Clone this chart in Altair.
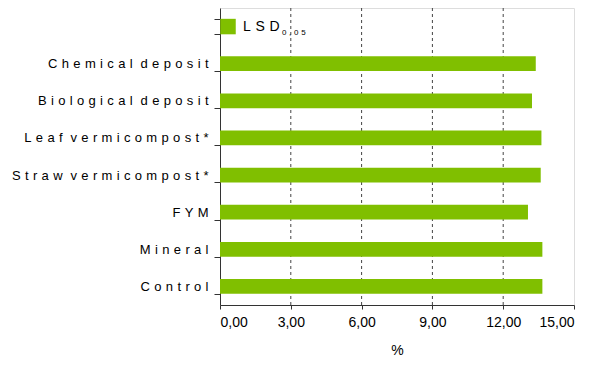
import altair as alt
import pandas as pd

categories = ["Chemical deposit", "Biological deposit", "Leaf vermicompost*",
              "Straw vermicompost*", "FYM", "Mineral", "Control"]
values = [13.38, 13.22, 13.62, 13.59, 13.05, 13.66, 13.66]
legend_slot = " "          # top band that holds the legend
legend_main = ["LSD"]
legend_sub = ["0,05"]
x_ticks = [0, 3, 6, 9, 12, 15]
grid_values = [3, 6, 9, 12]

GREEN = "#80BF00"
SP = "\u2004"
FONT = "Liberation Sans"
domain = [legend_slot] + categories

bars_df = pd.DataFrame({"cat": categories, "val": values})
grid_df = pd.DataFrame({"g": grid_values})
leg_df = pd.DataFrame({"cat": [legend_slot], "main": legend_main, "sub": legend_sub})


def spaced(field):
    return ("replace(join(split(" + field + ", ''), '" + SP + "'), '"
            + SP + " " + SP + "', ' " + SP + "')")


yscale = alt.Scale(domain=domain, paddingInner=0.6, paddingOuter=0.3)
yaxis = alt.Axis(title=None, tickBand="extent", tickSize=6, tickColor="#333",
                 domainColor="#333", labelFontSize=13, labelColor="#000",
                 labelPadding=6, labelExpr=spaced("datum.label"), labelLimit=400,
                 grid=False, labelFont=FONT)
xscale = alt.Scale(domain=[0, 15], nice=False, zero=True)
xaxis = alt.Axis(values=x_ticks, grid=False, tickSize=4, tickColor="#333",
                 domainColor="#333", labelFontSize=14, labelColor="#000",
                 labelPadding=6, labelFont=FONT,
                 labelExpr="replace(format(datum.value, '.2f'), '.', ',')",
                 title="%", titleFontSize=14, titleFontWeight="normal",
                 titlePadding=14, titleFont=FONT, titleColor="#000")

grid = alt.Chart(grid_df).mark_rule(color="#444", strokeDash=[3, 3], strokeWidth=1).encode(
    x=alt.X("g:Q", scale=xscale, axis=xaxis)
)

bars = alt.Chart(bars_df).mark_bar(color=GREEN).encode(
    x=alt.X("val:Q", scale=xscale, axis=xaxis),
    y=alt.Y("cat:N", scale=yscale, axis=yaxis, sort=domain),
)

swatch = alt.Chart(leg_df).mark_square(color=GREEN, size=240, opacity=1).encode(
    x=alt.value(8),
    y=alt.Y("cat:N", scale=yscale, axis=yaxis, sort=domain),
)

main_txt = alt.Chart(leg_df).transform_calculate(
    t=spaced("datum.main")
).mark_text(align="left", baseline="middle", fontSize=14, font=FONT, color="#000").encode(
    x=alt.value(23),
    y=alt.Y("cat:N", scale=yscale, axis=yaxis, sort=domain),
    text="t:N",
)

sub_txt = alt.Chart(leg_df).transform_calculate(
    t=spaced("datum.sub")
).mark_text(align="left", baseline="middle", fontSize=8, font=FONT, color="#000", dy=6).encode(
    x=alt.value(62),
    y=alt.Y("cat:N", scale=yscale, axis=yaxis, sort=domain),
    text="t:N",
)

chart = alt.layer(grid, bars, swatch, main_txt, sub_txt).properties(
    width=354, height=297,
    autosize=alt.AutoSizeParams(type="none"),
    padding={"left": 212, "top": 0, "right": 12, "bottom": 58},
    background="white",
).configure_view(stroke="#999", strokeWidth=1).configure(font=FONT)

chart.save("out.html", embed_options={"renderer": "svg", "actions": False})
